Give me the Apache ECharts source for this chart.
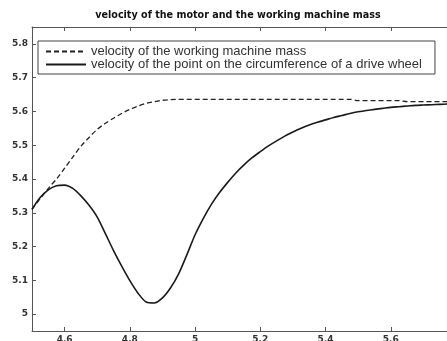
<!DOCTYPE html>
<html>
<head>
<meta charset="utf-8">
<script src="https://cdn.jsdelivr.net/npm/echarts@6/dist/echarts.min.js"></script>
<style>
  html, body { margin: 0; padding: 0; background: #fff; }
  #chart { width: 447px; height: 341px; }
</style>
</head>
<body>
<div id="chart"></div>
<script>
// Time samples (s)
const timeSamples = [
  4.500, 4.525, 4.550, 4.575, 4.600, 4.625, 4.650, 4.675, 4.700, 4.725,
  4.750, 4.775, 4.800, 4.825, 4.850, 4.875, 4.900, 4.925, 4.950, 4.975,
  5.000, 5.025, 5.050, 5.075, 5.100, 5.125, 5.150, 5.175, 5.200, 5.225,
  5.250, 5.275, 5.300, 5.325, 5.350, 5.375, 5.400, 5.425, 5.450, 5.475,
  5.500, 5.525, 5.550, 5.575, 5.600, 5.625, 5.650, 5.675, 5.700, 5.725,
  5.750, 5.775, 5.800
];

// Velocity of the working machine mass
const machineVelocity = [
  5.310, 5.342, 5.372, 5.400, 5.432, 5.465, 5.497, 5.523, 5.547, 5.565,
  5.580, 5.594, 5.606, 5.616, 5.624, 5.629, 5.633, 5.635, 5.636, 5.636,
  5.636, 5.636, 5.636, 5.636, 5.636, 5.636, 5.636, 5.636, 5.636, 5.636,
  5.636, 5.636, 5.636, 5.636, 5.636, 5.636, 5.636, 5.636, 5.636, 5.636,
  5.632, 5.632, 5.632, 5.632, 5.632, 5.632, 5.629, 5.629, 5.629, 5.629,
  5.629, 5.629, 5.629
];

// Velocity of the point on the circumference of the drive wheel
const wheelVelocity = [
  5.310, 5.345, 5.368, 5.380, 5.382, 5.372, 5.350, 5.322, 5.287, 5.238,
  5.188, 5.142, 5.099, 5.062, 5.036, 5.033, 5.048, 5.078, 5.120, 5.176,
  5.235, 5.283, 5.325, 5.360, 5.390, 5.418, 5.442, 5.463, 5.481, 5.498,
  5.513, 5.527, 5.539, 5.550, 5.560, 5.568, 5.575, 5.582, 5.588, 5.594,
  5.599, 5.603, 5.606, 5.609, 5.612, 5.614, 5.616, 5.618, 5.619, 5.620,
  5.621, 5.622, 5.623
];

const titleText = 'velocity of the motor and the working machine mass';
const machineName = 'velocity of the working machine mass';
const wheelName = 'velocity of the point on the circumference of a drive wheel';

const pairs = (ys) => timeSamples.map((t, i) => [t, ys[i]]);

const axisGray = '#555';
const labelStyle = {
  color: '#333',
  fontFamily: 'DejaVu Sans',
  fontWeight: 'bold',
  fontSize: 9
};

const chart = echarts.init(document.getElementById('chart'), null, { renderer: 'canvas' });

chart.setOption({
  animation: false,
  backgroundColor: '#fff',
  title: {
    text: titleText,
    left: 233,
    textAlign: 'center',
    top: 5,
    textStyle: {
      fontFamily: 'DejaVu Sans',
      fontWeight: 'bold',
      fontSize: 9.6,
      color: '#111'
    }
  },
  legend: {
    orient: 'vertical',
    left: 38,
    top: 41,
    padding: [4, 13, 3, 7],
    itemGap: 0,
    itemWidth: 40,
    itemHeight: 10,
    borderColor: '#444',
    borderWidth: 1,
    backgroundColor: '#fff',
    itemStyle: { color: 'transparent', borderWidth: 0, opacity: 0 },
    textStyle: {
      fontFamily: 'Liberation Sans',
      fontSize: 13,
      lineHeight: 13,
      color: '#333'
    },
    data: [machineName, wheelName]
  },
  grid: {
    left: 32,
    top: 27,
    right: -9,
    bottom: 10,
    containLabel: false,
    outerBoundsMode: 'none'
  },
  xAxis: [
    {
      type: 'value',
      position: 'bottom',
      min: 4.5,
      max: 5.8,
      splitNumber: 6,
      axisLine: { show: true, lineStyle: { color: axisGray, width: 1 } },
      axisTick: { show: true, inside: true, length: 4, lineStyle: { color: axisGray } },
      axisLabel: Object.assign({ margin: 4, showMinLabel: false, showMaxLabel: false }, labelStyle),
      splitLine: { show: false }
    },
    {
      type: 'value',
      position: 'top',
      min: 4.5,
      max: 5.8,
      splitNumber: 6,
      axisLine: { show: true, lineStyle: { color: axisGray, width: 1 } },
      axisTick: { show: true, inside: true, length: 4, lineStyle: { color: axisGray } },
      axisLabel: { show: false },
      splitLine: { show: false }
    }
  ],
  yAxis: {
    type: 'value',
    min: 4.95,
    max: 5.85,
    splitNumber: 9,
    axisLine: { show: true, lineStyle: { color: axisGray, width: 1 } },
    axisTick: { show: true, inside: true, length: 4, lineStyle: { color: axisGray } },
    axisLabel: Object.assign({ margin: 4, showMinLabel: false, showMaxLabel: false }, labelStyle),
    splitLine: { show: false }
  },
  series: [
    {
      name: machineName,
      type: 'line',
      xAxisIndex: 0,
      data: pairs(machineVelocity),
      symbol: 'none',
      smooth: 0.3,
      lineStyle: { color: '#222', width: 1.3, type: [5, 3] },
      itemStyle: { color: '#222' },
      z: 3
    },
    {
      name: wheelName,
      type: 'line',
      xAxisIndex: 0,
      data: pairs(wheelVelocity),
      symbol: 'none',
      smooth: 0.3,
      lineStyle: { color: '#1a1a1a', width: 1.6, type: 'solid' },
      itemStyle: { color: '#1a1a1a' },
      z: 4
    }
  ]
});
</script>
</body>
</html>
